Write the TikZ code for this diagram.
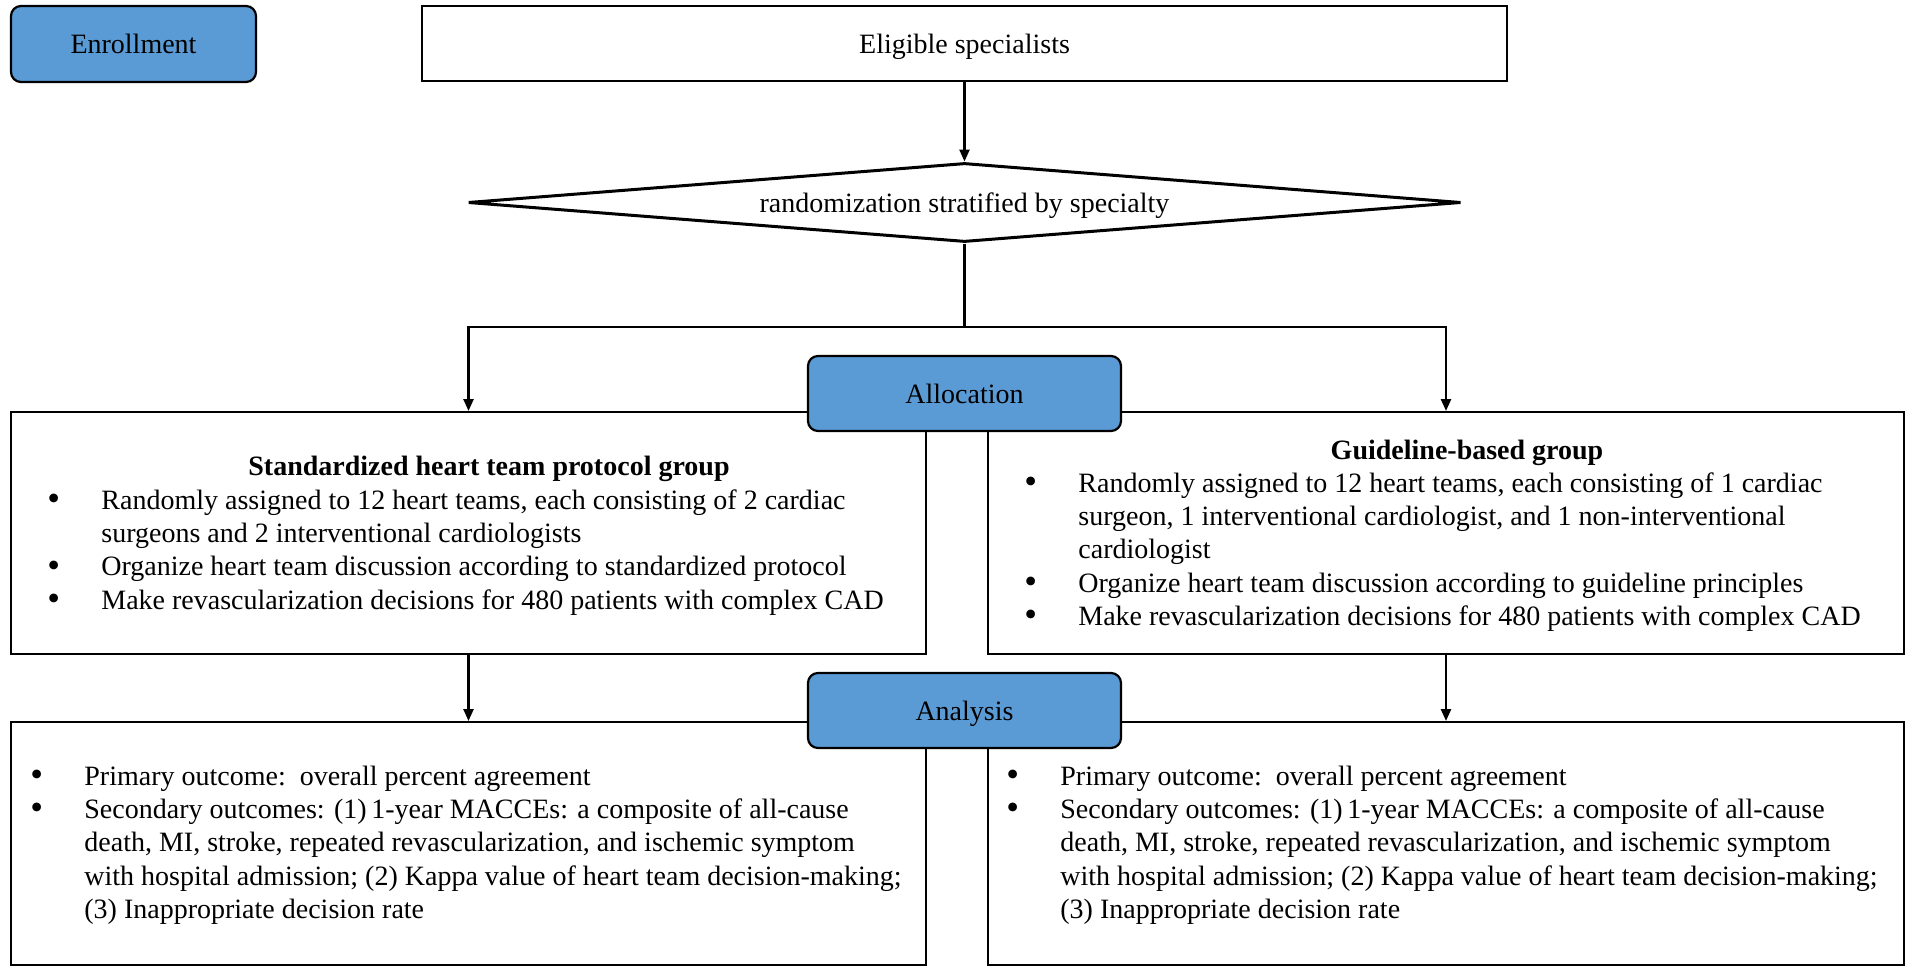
\documentclass[tikz,border=0pt]{standalone}
\usepackage{fontspec}
\setmainfont{Liberation Serif}
\usetikzlibrary{shapes.geometric,arrows.meta}
\definecolor{phaseblue}{HTML}{5B9BD5}

% bullet list: bullet column + text column
\newcommand{\lbullet}{\raisebox{-0.6pt}{\scalebox{1.3}{\textbullet}}}
\newcommand{\blist}[1]{\begin{tabular}[t]{@{}p{27pt}@{}l@{}}#1\end{tabular}}

\begin{document}
\begin{tikzpicture}[x=0.5pt,y=-0.5pt,
  font=\fontsize{14pt}{16.7pt}\selectfont,
  oneline/.style={text height=12.5pt, text depth=3pt},
  framebox/.style={draw, line width=1pt, inner sep=0pt, fill=white},
  phase/.style={draw, line width=1.1pt, fill=phaseblue, rounded corners=5pt,
    inner sep=0pt, oneline, minimum width=156.5pt, minimum height=37.5pt},
  listtext/.style={inner sep=0pt, anchor=base west},
  arr/.style={line width=1.2pt, -{Triangle[length=6pt,width=5pt]}},
  conn/.style={line width=1.2pt}
]
\useasboundingbox (0,0) rectangle (1910,969);

% top row
\node[phase, minimum width=122.5pt, minimum height=38pt] (enroll) at (133.5,44) {Enrollment};
\node[framebox, oneline, minimum width=542.5pt, minimum height=37.5pt] (elig) at (964.5,43.5) {Eligible specialists};

% randomization
\node[diamond, draw, line width=1.5pt, inner sep=0pt, oneline, aspect=12.5,
  minimum width=496.5pt, minimum height=39.5pt] (rand) at (964.5,202.5)
  {randomization stratified by specialty};

% group boxes
\node[framebox, minimum width=457.5pt, minimum height=121pt] (stdgrp) at (468.5,533) {};
\node[framebox, minimum width=458pt, minimum height=121pt] (gdlgrp) at (1446,533) {};

% outcome boxes
\node[framebox, minimum width=457.5pt, minimum height=121.5pt] (stdout) at (468.5,843.5) {};
\node[framebox, minimum width=458pt, minimum height=121.5pt] (gdlout) at (1446,843.5) {};

% phase labels over the boxes
\node[phase] (alloc) at (964.5,393.5) {Allocation};
\node[phase] (anal) at (964.5,710.5) {Analysis};

% connectors
\coordinate (split) at (964.5,327);
\draw[arr] (elig.south) -- (rand.north);
\draw[conn] (rand.south) -- (split);
\draw[arr] (split) -| (stdgrp.north);
\draw[arr] (split) -| (gdlgrp.north);
\draw[arr] (stdgrp.south) -- (stdout.north);
\draw[arr] (gdlgrp.south) -- (gdlout.north);

% standardized protocol group
\node[inner sep=0pt, anchor=base, font=\fontsize{14pt}{16.7pt}\selectfont\bfseries] (stdhead) at (489,475)
  {Standardized heart team protocol group};
\node[listtext] (stdlist) at (47,509) {\blist{%
\lbullet & Randomly assigned to 12 heart teams, each consisting of 2 cardiac\\
 & surgeons and 2 interventional cardiologists\\
\lbullet & Organize heart team discussion according to standardized protocol\\
\lbullet & Make revascularization decisions for 480 patients with complex CAD}};

% guideline-based group
\node[inner sep=0pt, anchor=base, font=\fontsize{14pt}{16.7pt}\selectfont\bfseries] (gdlhead) at (1467,459)
  {Guideline-based group};
\node[listtext] (gdllist) at (1024,492) {\blist{%
\lbullet & Randomly assigned to 12 heart teams, each consisting of 1 cardiac\\
 & surgeon, 1 interventional cardiologist, and 1 non-interventional\\
 & cardiologist\\
\lbullet & Organize heart team discussion according to guideline principles\\
\lbullet & Make revascularization decisions for 480 patients with complex CAD}};

% outcomes
\node[listtext] (stdoutlist) at (30,785) {\blist{%
\lbullet & Primary outcome:\ \ overall percent agreement\\
\lbullet & Secondary outcomes: (1)\,1-year MACCEs: a composite of all-cause\\
 & death, MI, stroke, repeated revascularization, and ischemic symptom\\
 & with hospital admission; (2) Kappa value of heart team decision-making;\\
 & (3) Inappropriate decision rate}};
\node[listtext] (gdloutlist) at (1006,785) {\blist{%
\lbullet & Primary outcome:\ \ overall percent agreement\\
\lbullet & Secondary outcomes: (1)\,1-year MACCEs: a composite of all-cause\\
 & death, MI, stroke, repeated revascularization, and ischemic symptom\\
 & with hospital admission; (2) Kappa value of heart team decision-making;\\
 & (3) Inappropriate decision rate}};
\end{tikzpicture}
\end{document}
